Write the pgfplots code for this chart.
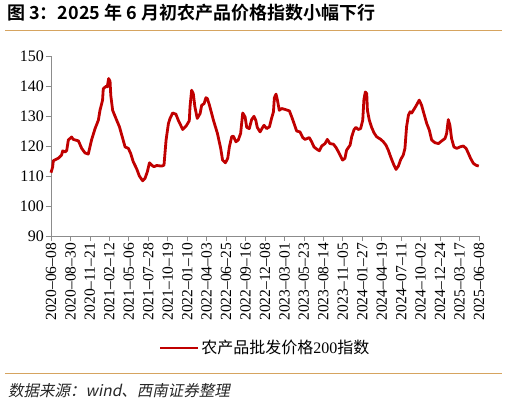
\documentclass[border=0pt]{standalone}
\usepackage{fontspec}
\setmainfont{Liberation Serif}
\newfontfamily\cjk{Noto Sans CJK SC}
\newfontfamily\cjkb{Noto Sans CJK SC Bold}
\newfontfamily\cjkit[FakeSlant=0.2]{Noto Sans CJK SC}
\usepackage{pgfplots}
\pgfplotsset{compat=1.18}
\usepackage{pgfplotstable}
\definecolor{linered}{RGB}{192,0,0}
\definecolor{rulegold}{RGB}{214,164,96}
\definecolor{axgray}{RGB}{140,140,140}
\pgfplotstableread{
day val
0 111.1
7 113
10 115.1
31 115.9
45 117
50 118.4
60 118
67 118.5
74 122
88 123
95 122.2
117 121.7
131 119.2
145 117.7
159 117.3
173 122
188 125.8
202 128.6
209 131.9
220 135.3
223 139.1
235 139.9
240 139.7
246 142.5
252 141.5
255 136.9
263 131.9
277 129.2
292 126.4
306 122.5
316 119.7
330 119.2
340 117.5
351 114.7
365 112.5
377 110
391 108.4
401 109.2
411 111.4
420 114.4
430 113.6
439 113.1
451 113.5
472 113.3
482 113.6
491 122
501 127.5
508 129.2
519 131
533 130.6
543 128.6
562 125.5
576 126.6
590 128.4
593 133
600 138.6
607 137.5
614 133
624 129.2
636 130.8
643 133.6
653 134.1
661 136.1
667 135.8
676 133.6
693 128.6
710 124.2
724 119.2
732 115.3
744 114.4
754 115.9
761 119.7
771 123.1
778 123.3
789 121.4
799 122
809 124.2
818 131
828 129.7
835 126.2
846 125.8
856 128.8
866 129.9
874 128.5
880 126.2
892 124.7
903 126.2
909 126.9
920 125.8
932 126.4
941 129.2
949 131.4
953 136.1
960 137.3
966 135.3
974 131.9
984 132.5
998 132.2
1017 131.7
1027 129.7
1037 127.5
1048 125
1062 124.7
1074 122.8
1084 122.2
1102 122.8
1112 121.4
1122 119.7
1133 119
1145 118.4
1155 120
1169 120.8
1179 122.2
1190 120.8
1205 120.6
1216 119.5
1230 117.5
1244 115.3
1254 115.9
1261 118.6
1276 120.3
1283 123.1
1293 125.5
1301 126.2
1311 125.5
1321 125.8
1330 128.6
1335 135.5
1341 138
1347 137.5
1350 131.9
1358 128.6
1368 126.2
1378 124.4
1389 123.1
1407 122.2
1418 121.4
1429 120.3
1439 118.6
1449 116.4
1461 114
1472 112.2
1482 113.3
1492 115.5
1503 117
1510 119.2
1517 126.4
1525 130.3
1532 131.4
1539 131
1546 131.9
1557 133.3
1571 135.3
1581 133.6
1591 130.8
1603 127.5
1614 125.3
1624 122
1638 121.1
1653 120.8
1667 121.7
1681 122.5
1688 124.2
1695 128.8
1702 126.9
1709 122.5
1719 119.7
1731 119.2
1745 119.7
1759 120
1771 119.2
1781 117.5
1790 115.9
1802 114.2
1813 113.6
1825 113.3
}\datatable
\begin{document}
\begin{tikzpicture}
\useasboundingbox (0,0) rectangle (508bp,406bp);
\node[anchor=base west, inner sep=0pt, font=\fontsize{18bp}{20bp}\cjkb] at (7bp,386bp) {图 3：2025 年 6 月初农产品价格指数小幅下行};
\draw[rulegold, line width=1bp] (5bp,375bp) -- (502bp,375bp);
\draw[rulegold, line width=1bp] (5bp,32.5bp) -- (502bp,32.5bp);
\node[anchor=base west, inner sep=0pt, font=\fontsize{15.5bp}{17bp}\cjkit, text=black!85] at (8bp,10bp) {数据来源：wind、西南证券整理};
\begin{axis}[
  at={(51bp,170bp)}, anchor=south west,
  scale only axis, width=428bp, height=180bp,
  xmin=0, xmax=1826, ymin=90, ymax=150,
  ytick={90,100,...,150},
  xtick={0,83,...,1826},
  xticklabels={2020--06--08,2020--08--30,2020--11--21,2021--02--12,2021--05--06,2021--07--28,2021--10--19,2022--01--10,2022--04--03,2022--06--25,2022--09--16,2022--12--08,2023--03--01,2023--05--23,2023--08--14,2023--11--05,2024--01--27,2024--04--19,2024--07--11,2024--10--02,2024--12--24,2025--03--17,2025--06--08},
  xticklabel style={rotate=90, anchor=east, font=\fontsize{15.5bp}{17bp}\selectfont, inner sep=2bp},
  yticklabel style={font=\fontsize{16bp}{18bp}\selectfont, inner sep=2bp},
  /pgf/number format/assume math mode=true,
  axis x line*=bottom, axis y line*=left,
  axis line style={axgray, line width=0.8bp, -},
  tick style={axgray, line width=0.8bp},
  tick align=outside, major tick length=5bp,
  legend style={at={(0.5,-0.622)}, anchor=center, draw=none, fill=none,
    font=\fontsize{16bp}{18bp}\selectfont, inner sep=0pt},
  legend image code/.code={\draw[#1, line width=2.8bp] (0bp,0bp) -- (38bp,0bp);},
  clip=false,
]
\addplot[linered, line width=2.8bp, line join=round] table[x=day, y=val] {\datatable};
\addlegendentry{{\cjk 农产品批发价格}200{\cjk 指数}}
\end{axis}
\end{tikzpicture}
\end{document}
